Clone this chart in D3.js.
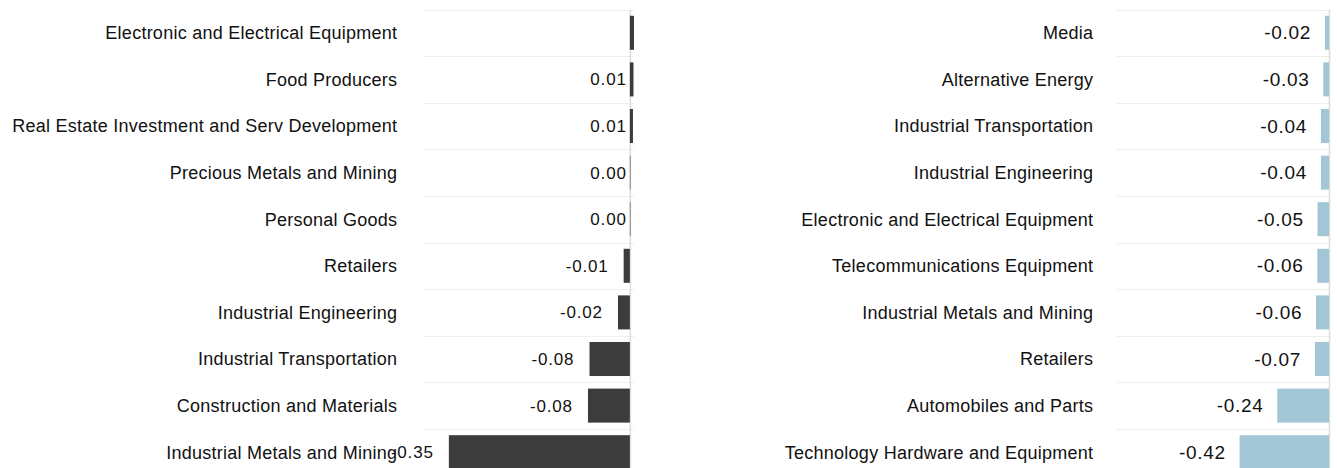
<!DOCTYPE html>
<html>
<head>
<meta charset="utf-8">
<script src="https://cdn.jsdelivr.net/npm/d3@7"></script>
<style>
  html, body { margin: 0; padding: 0; background: #fff; }
  svg text { font-family: "Liberation Sans", Arial, sans-serif; }
</style>
</head>
<body>
<svg id="chart"></svg>
<script>
// left panel
var leftCategories = [
    "Electronic and Electrical Equipment",
    "Food Producers",
    "Real Estate Investment and Serv Development",
    "Precious Metals and Mining",
    "Personal Goods",
    "Retailers",
    "Industrial Engineering",
    "Industrial Transportation",
    "Construction and Materials",
    "Industrial Metals and Mining"
];
var leftValues = [0.008, 0.007, 0.006, 0.001, 0.001, -0.012, -0.023, -0.078, -0.081, -0.35];
// first row shows no value label in the original
var leftShowLabel = [false, true, true, true, true, true, true, true, true, true];

// right panel
var rightCategories = [
    "Media",
    "Alternative Energy",
    "Industrial Transportation",
    "Industrial Engineering",
    "Electronic and Electrical Equipment",
    "Telecommunications Equipment",
    "Industrial Metals and Mining",
    "Retailers",
    "Automobiles and Parts",
    "Technology Hardware and Equipment"
];
var rightValues = [-0.019, -0.027, -0.038, -0.038, -0.054, -0.055, -0.061, -0.066, -0.243, -0.42];

var width = 1337;
var height = 468;
// plain hyphen for negatives, like the original
var fmt = d3.formatLocale({decimal: ".", thousands: ",", grouping: [3], currency: ["$", ""], minus: "-"}).format(".2f");

var svg = d3.select("#chart")
    .attr("width", width)
    .attr("height", height);

function drawPanel(opts){
    var rows = opts.categories.map(function(c, i){
        return {cat: c, v: opts.values[i], show: opts.show ? opts.show[i] : true};
    });

    var y = d3.scaleBand()
        .domain(opts.categories)
        .range([9.5, 475.5])
        .paddingInner(0.27)
        .paddingOuter(0.135);

    var x = d3.scaleLinear()
        .domain(opts.domain)
        .range(opts.range);

    var g = svg.append("g");
    var step = y.step();

    // row separators
    g.selectAll("line.grid")
        .data(d3.range(rows.length))
        .enter()
        .append("line")
            .attr("class", "grid")
            .attr("x1", opts.range[0])
            .attr("x2", opts.range[1])
            .attr("y1", i => Math.round(9.5 + i*step) + 0.5)
            .attr("y2", i => Math.round(9.5 + i*step) + 0.5)
            .attr("stroke", "#efefef")
            .attr("stroke-width", 1);

    // zero line
    g.append("line")
        .attr("x1", x(0) + 0.5)
        .attr("x2", x(0) + 0.5)
        .attr("y1", 9.5)
        .attr("y2", height)
        .attr("stroke", "#dcdcdc")
        .attr("stroke-width", 1.5);

    g.selectAll("rect")
        .data(rows)
        .enter()
        .append("rect")
            .attr("x", d => x(Math.min(0, d.v)))
            .attr("y", d => y(d.cat))
            .attr("width", d => Math.abs(x(d.v) - x(0)))
            .attr("height", y.bandwidth())
            .attr("fill", opts.color);

    // category labels
    g.selectAll("text.cat")
        .data(rows)
        .enter()
        .append("text")
            .attr("class", "cat")
            .attr("x", opts.labelX + 0.25)
            .attr("y", d => y(d.cat) + y.bandwidth()/2)
            .attr("dy", "0.35em")
            .attr("text-anchor", "end")
            .attr("font-size", 18)
            .attr("letter-spacing", 0.25)
            .attr("fill", "#111")
            .text(d => d.cat);

    // value labels
    g.selectAll("text.val")
        .data(rows.filter(d => d.show))
        .enter()
        .append("text")
            .attr("class", "val")
            .attr("x", d => (d.v < 0 ? x(d.v) - opts.gap : x(0) - 4) + opts.valSpacing)
            .attr("y", d => y(d.cat) + y.bandwidth()/2)
            .attr("dy", "0.35em")
            .attr("text-anchor", "end")
            .attr("font-size", opts.valSize)
            .attr("letter-spacing", opts.valSpacing)
            .attr("fill", "#111")
            .text(d => fmt(d.v));
}

drawPanel({
    categories: leftCategories,
    values: leftValues,
    show: leftShowLabel,
    domain: [-0.4, 0.008],
    range: [423, 634],
    labelX: 397,
    gap: 16,
    valSize: 17,
    valSpacing: 0.8,
    color: "#3c3c3c"
});

drawPanel({
    categories: rightCategories,
    values: rightValues,
    domain: [-1, 0],
    range: [1116, 1329],
    labelX: 1093,
    gap: 14.5,
    valSize: 19,
    valSpacing: 0.7,
    color: "#a3c6d6"
});
</script>
</body>
</html>
